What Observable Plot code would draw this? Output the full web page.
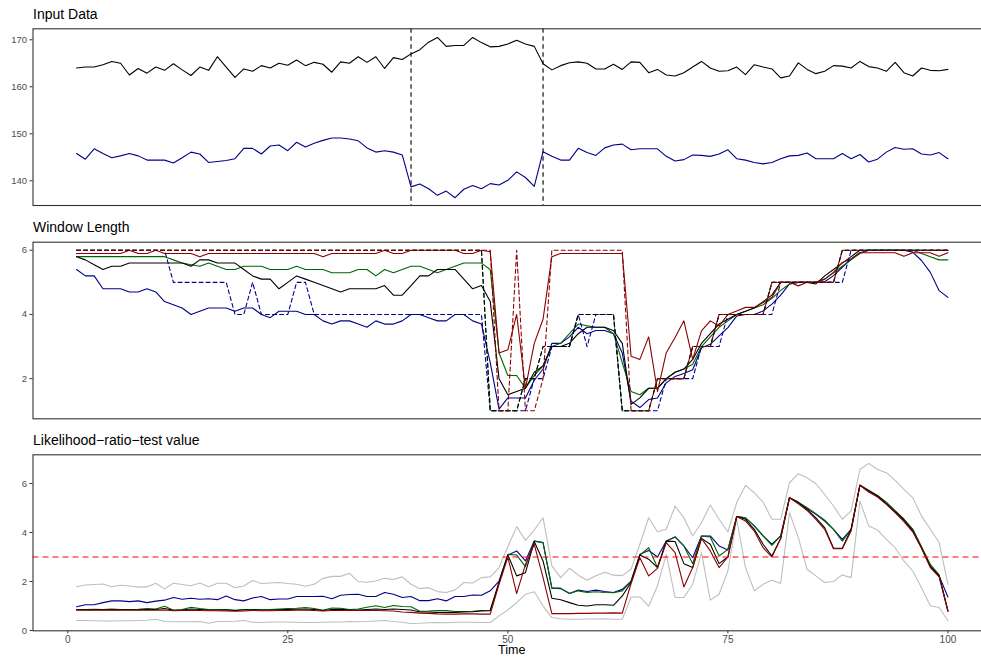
<!DOCTYPE html>
<html><head><meta charset="utf-8">
<script src="https://cdn.jsdelivr.net/npm/d3@7"></script>
<script src="https://cdn.jsdelivr.net/npm/@observablehq/plot@0.6"></script>
<style>
html,body{margin:0;padding:0;overflow:hidden;background:#fff;}
body{font-family:"Liberation Sans",Arial,Helvetica,sans-serif;}
#wrap{position:relative;width:1000px;height:657px;}
.title{position:absolute;left:33px;font-size:14px;line-height:14px;color:#000;white-space:nowrap;}
.xlab{position:absolute;font-size:12.5px;line-height:12.5px;color:#000;width:100px;text-align:center;}
.p{position:absolute;left:0;}
</style></head>
<body><div id="wrap"></div>
<script>
// ---------- data ----------
const time = d3.range(1, 101);
const changepoints = [39, 54];
const threshold = [3];

const input_black = [164.0,164.2,164.2,164.7,165.4,165.0,162.5,163.9,162.9,164.2,
163.5,164.9,163.6,162.4,164.2,163.5,166.4,164.2,162.0,163.8,
163.3,164.5,164.0,165.0,164.6,165.7,164.5,165.2,164.8,163.1,
165.3,165.0,166.4,165.2,166.4,163.9,166.2,165.8,167.0,167.9,
169.5,170.5,168.6,168.8,168.8,170.5,169.4,168.5,168.6,169.1,
169.9,169.1,168.6,164.9,163.6,164.5,165.1,165.3,165.0,163.8,
163.8,164.8,163.7,165.3,165.2,163.0,163.7,162.5,162.3,163.0,
164.2,165.4,164.0,163.3,163.4,164.2,162.6,164.7,164.2,163.8,
161.9,162.3,165.1,163.7,162.8,163.3,164.5,164.4,164.0,165.4,
164.3,164.0,163.3,165.2,163.0,162.3,164.0,163.5,163.4,163.7];
const input_blue = [145.8,144.6,146.8,145.8,144.9,145.3,145.8,145.3,144.4,144.4,
144.4,143.8,144.9,146.1,145.7,143.9,144.1,144.3,144.7,146.9,
146.9,145.7,147.4,147.6,146.4,148.2,147.2,148.0,148.6,149.1,
149.1,148.9,148.5,147.0,146.1,146.4,146.1,145.5,138.7,139.3,
138.3,136.9,137.8,136.4,138.2,139.0,138.3,139.4,139.1,140.1,
141.9,140.7,138.8,146.2,145.2,144.4,144.4,146.9,146.0,145.4,
147.0,147.6,147.8,146.6,146.8,146.8,146.8,145.2,144.2,144.5,
145.5,145.4,145.2,145.7,146.6,144.7,144.4,143.9,143.6,143.9,
144.7,145.3,145.4,145.9,144.7,144.7,144.7,145.8,144.7,145.6,
144.0,144.6,146.1,147.1,146.7,146.8,145.7,145.5,146.0,144.7];

const wl_black = [5.8,5.7,5.55,5.4,5.5,5.5,5.6,5.6,5.6,5.6,
5.6,5.6,5.6,5.5,5.7,5.7,5.6,5.6,5.6,5.4,
5.2,5.1,5.1,4.8,5.0,5.2,5.1,5.0,4.9,4.8,
4.7,4.8,4.8,4.8,4.8,4.9,4.6,4.6,4.9,5.2,
5.2,5.4,5.4,5.4,5.1,4.8,4.9,4.4,2.0,1.5,
1.6,1.7,2.2,2.4,3.0,3.0,3.1,3.4,3.6,3.6,
3.6,3.5,3.1,1.2,1.4,1.7,1.7,2.0,2.2,2.3,
2.6,3.1,3.4,3.7,3.85,4.0,4.1,4.2,4.4,4.6,
5.0,5.0,5.0,5.0,4.95,5.2,5.4,5.6,5.8,6.0,
6,6,6,6,6,6,6,6,6,6];
const wl_blue = [5.4,5.2,5.2,4.8,4.8,4.8,4.7,4.7,4.8,4.7,
4.4,4.3,4.2,4.0,4.1,4.2,4.2,4.2,4.1,4.2,
4.2,4.0,3.9,4.1,4.1,4.1,4.0,4.0,3.8,3.7,
3.8,3.8,3.7,3.6,3.8,3.7,3.7,3.8,4.0,4.0,
3.9,3.8,3.8,4.0,4.0,3.8,3.7,2.5,1.05,1.4,
1.4,1.4,1.95,2.3,3.1,3.1,3.3,3.6,3.4,3.5,
3.5,3.4,2.8,1.3,1.1,1.35,1.4,1.87,2.07,2.16,
2.28,2.96,3.07,3.33,3.59,3.95,4.0,4.0,4.11,4.32,
4.6,4.95,5.0,5.0,5.0,5.02,5.21,5.47,5.73,5.92,
6.0,6.0,6.0,6.0,6.0,5.94,5.68,5.31,4.74,4.53];
const wl_green = [5.8,5.8,5.8,5.8,5.8,5.8,5.8,5.8,5.8,5.8,
5.8,5.7,5.6,5.55,5.5,5.6,5.5,5.4,5.4,5.5,
5.5,5.5,5.4,5.4,5.4,5.5,5.4,5.4,5.4,5.3,
5.3,5.3,5.4,5.4,5.2,5.4,5.3,5.4,5.5,5.5,
5.4,5.3,5.4,5.5,5.6,5.6,5.6,5.4,2.8,2.1,
2.1,1.7,2.1,2.4,3.0,3.1,3.4,3.7,3.65,3.6,
3.6,3.4,2.5,1.6,1.5,1.7,1.7,2.0,2.2,2.3,
2.45,3.0,3.3,3.6,3.8,4.0,4.1,4.2,4.3,4.5,
4.75,4.95,5.0,5.0,5.0,5.1,5.3,5.5,5.7,5.9,
6.0,6.0,6.0,6.0,6.0,6.0,5.9,5.8,5.7,5.7];
const wl_red = [5.9,5.9,5.9,5.9,5.9,5.9,6.0,5.9,5.9,6.0,
5.9,5.9,5.9,5.9,5.8,5.9,5.9,5.9,5.9,5.9,
5.9,5.9,5.9,5.9,5.9,5.9,5.9,5.9,5.8,5.9,
5.9,5.9,5.9,5.9,5.9,6.0,5.9,5.9,6.0,6.0,
6.0,6.0,6.0,6.0,5.9,5.9,6.0,5.95,2.8,2.9,
4.0,1.7,3.1,3.85,5.8,5.9,5.9,5.9,5.9,5.9,
5.9,5.9,5.9,2.7,2.6,3.3,1.6,2.81,3.28,3.8,
2.6,3.49,3.8,3.64,4.0,4.11,4.22,4.22,4.37,4.53,
5.0,5.0,4.89,5.0,5.0,5.1,5.31,5.62,5.73,5.92,
5.92,5.92,5.92,5.92,5.81,5.92,5.92,5.92,5.81,5.92];
const wl_black_dash = [6,6,6,6,6,6,6,6,6,6,
6,6,6,6,6,6,6,6,6,6,
6,6,6,6,6,6,6,6,6,6,
6,6,6,6,6,6,6,6,6,6,
6,6,6,6,6,6,6,1,1,1,
1,2,2,3,3,3,3,4,4,4,
4,4,1,1,1,1,2,2,2,2,
3,3,3,4,4,4,4,4,4,5,
5,5,5,5,5,5,5,6,6,6,
6,6,6,6,6,6,6,6,6,6];
const wl_green_dash = [6,6,6,6,6,6,6,6,6,6,
6,6,6,6,6,6,6,6,6,6,
6,6,6,6,6,6,6,6,6,6,
6,6,6,6,6,6,6,6,6,6,
6,6,6,6,6,6,6,1,1,1,
1,2,2,3,3,3,3,4,4,4,
4,4,1,1,1,1,2,2,2,2,
3,3,3,4,4,4,4,4,4,5,
5,5,5,5,5,5,5,6,6,6,
6,6,6,6,6,6,6,6,6,6];
const wl_blue_dash = [6,6,6,6,6,6,6,6,6,6,
6,5,5,5,5,5,5,5,4,4,
5,4,4,4,4,5,5,4,4,4,
4,4,4,4,4,4,4,4,4,4,
4,4,4,4,4,4,4,1,1,1,
1,1,2,2,3,3,3,4,3,4,
4,4,1,1,1,1,1,2,2,2,
2,3,3,3,4,4,4,4,4,4,
5,5,5,5,5,5,5,5,6,6,
6,6,6,6,6,6,6,6,6,6];
const wl_red_dash = [6,6,6,6,6,6,6,6,6,6,
6,6,6,6,6,6,6,6,6,6,
6,6,6,6,6,6,6,6,6,6,
6,6,6,6,6,6,6,6,6,6,
6,6,6,6,6,6,6,6,1,1,
6,1,1,2,6,6,6,6,6,6,
6,6,6,1,1,1,2,2,2,2,
3,3,3,4,4,4,4,4,4,5,
5,5,5,5,5,5,5,6,6,6,
6,6,6,6,6,6,6,6,6,6];

const lrt_upper = [1.79,1.86,1.88,1.90,1.79,1.85,1.82,1.77,1.78,1.93,
1.70,1.93,1.88,1.83,1.94,1.79,1.93,1.93,1.75,1.82,
2.04,1.92,1.94,1.96,1.92,1.89,1.81,1.89,2.13,2.21,
2.21,2.34,2.00,1.97,2.02,2.13,2.08,2.19,1.89,1.71,
1.75,1.59,1.55,1.66,1.96,1.94,2.16,2.19,2.57,3.42,
4.24,3.68,4.10,4.60,2.64,2.16,2.54,2.26,2.05,2.24,
2.38,2.26,2.24,2.50,3.52,4.60,4.03,4.13,5.08,4.60,
3.86,4.40,5.12,4.54,4.02,5.22,5.92,5.62,5.24,4.54,
4.54,6.03,6.40,6.23,5.99,5.55,5.08,4.54,4.88,6.57,
6.82,6.57,6.44,6.13,5.76,5.42,4.67,4.13,3.59,1.89];
const lrt_lower = [0.41,0.41,0.40,0.39,0.39,0.40,0.40,0.41,0.42,0.46,
0.37,0.36,0.36,0.36,0.37,0.30,0.37,0.37,0.38,0.41,
0.34,0.33,0.35,0.35,0.35,0.34,0.33,0.33,0.34,0.35,
0.35,0.37,0.36,0.37,0.39,0.41,0.37,0.34,0.29,0.30,
0.32,0.33,0.32,0.34,0.34,0.34,0.33,0.33,0.60,0.84,
1.14,1.48,1.58,1.00,0.53,0.48,0.46,0.46,0.47,0.47,
0.48,0.46,0.46,1.37,1.37,1.00,1.82,3.11,1.35,1.35,
1.89,3.18,1.24,1.48,2.43,4.54,2.57,1.62,1.89,2.05,
1.92,4.81,3.79,2.50,2.23,1.96,2.00,2.27,2.16,5.28,
4.27,4.10,3.72,3.38,2.84,2.43,1.75,1.01,0.94,0.40];
const lrt_blue = [0.97,1.05,1.05,1.14,1.21,1.21,1.18,1.21,1.14,1.20,
1.24,1.35,1.28,1.32,1.28,1.30,1.26,1.41,1.26,1.21,
1.33,1.39,1.26,1.29,1.29,1.39,1.39,1.39,1.40,1.30,
1.44,1.47,1.48,1.39,1.39,1.55,1.48,1.35,1.39,1.22,
1.22,1.30,1.21,1.39,1.39,1.45,1.44,1.62,2.02,3.08,
3.25,2.84,3.65,3.59,1.73,1.71,1.51,1.65,1.59,1.65,
1.59,1.55,1.68,2.02,3.11,3.27,3.00,3.65,3.82,3.45,
2.97,3.86,3.86,3.45,3.29,4.65,4.60,4.27,3.86,3.52,
3.86,5.42,5.22,4.98,4.74,4.47,4.13,3.72,4.13,5.93,
5.69,5.49,5.22,4.88,4.54,4.13,3.38,2.64,2.23,1.37];
const lrt_green = [0.86,0.86,0.87,0.86,0.88,0.86,0.86,0.87,0.90,0.88,
0.99,0.83,0.86,0.95,0.90,0.86,0.85,0.86,0.83,0.86,
0.86,0.85,0.86,0.88,0.90,0.91,0.94,0.90,0.83,0.92,
0.91,0.86,0.88,0.95,1.01,0.94,1.02,0.98,0.97,0.79,
0.80,0.82,0.82,0.78,0.78,0.79,0.82,0.83,1.96,3.11,
3.08,2.61,3.65,3.59,1.73,1.73,1.51,1.62,1.55,1.58,
1.55,1.54,1.62,2.00,3.08,3.38,2.57,3.65,3.82,3.45,
2.73,3.86,3.82,3.04,3.31,4.65,4.60,4.27,3.86,3.48,
3.86,5.42,5.24,5.01,4.77,4.50,4.13,3.65,4.13,5.93,
5.72,5.51,5.24,4.88,4.54,4.13,3.42,2.70,2.27,0.80];
const lrt_black = [0.85,0.85,0.85,0.85,0.86,0.85,0.85,0.85,0.86,0.86,
0.90,0.83,0.84,0.88,0.86,0.84,0.84,0.84,0.82,0.84,
0.84,0.84,0.84,0.85,0.86,0.87,0.88,0.86,0.82,0.86,
0.87,0.84,0.84,0.86,0.88,0.86,0.88,0.86,0.84,0.76,
0.76,0.74,0.74,0.74,0.76,0.77,0.80,0.81,1.96,3.08,
2.23,2.36,3.63,2.84,1.32,1.26,1.14,1.03,1.00,1.05,
1.05,1.03,1.41,1.96,3.08,2.91,2.57,3.65,3.63,2.73,
2.57,3.76,3.52,2.73,3.00,4.65,4.54,4.13,3.52,3.04,
3.76,5.42,5.22,4.94,4.60,4.20,3.36,3.36,4.13,5.93,
5.69,5.49,5.17,4.84,4.50,4.06,3.38,2.60,2.23,0.80];
const lrt_red = [0.83,0.83,0.83,0.83,0.84,0.83,0.83,0.83,0.83,0.83,
0.84,0.81,0.82,0.83,0.82,0.81,0.81,0.80,0.79,0.80,
0.82,0.81,0.81,0.82,0.82,0.83,0.83,0.82,0.80,0.82,
0.82,0.82,0.82,0.82,0.82,0.81,0.80,0.76,0.74,0.71,
0.70,0.68,0.67,0.67,0.68,0.68,0.67,0.67,1.89,3.00,
1.51,2.70,3.52,2.16,0.69,0.69,0.69,0.70,0.70,0.71,
0.71,0.72,0.71,1.92,2.97,2.23,2.54,3.59,3.18,1.78,
2.57,3.76,3.25,2.57,3.00,4.65,4.47,4.06,3.38,3.00,
3.76,5.42,5.17,4.90,4.54,4.13,3.34,3.34,4.06,5.93,
5.65,5.45,5.15,4.81,4.44,4.03,3.36,2.57,2.19,0.78];

const ticks_input = [140, 150, 160, 170];
const ticks_wl = [2, 4, 6];
const ticks_lrt = [0, 2, 4, 6];
const ticks_time = [0, 25, 50, 75, 100];

// ---------- helpers ----------
const FONT = '"Liberation Sans", Arial, Helvetica, sans-serif';
const W = 1000, ML = 32.5, MR = 9;
const xdom = [-3.95, 104.95];
const BLACK = "#000000", BLUE = "#00008B", GREEN = "#006400", RED = "#8B0000", GREY = "#BEBEBE";
const rows = vals => time.map((t, i) => ({t, v: vals[i]}));
const line = (vals, stroke, dash, w = 1.1) =>
  Plot.line(rows(vals), {x: "t", y: "v", stroke, strokeWidth: w, strokeDasharray: dash});
const yAxis = ticks => Plot.axisY({ticks, tickSize: 3, tickPadding: 3, label: null,
  tickFormat: d3.format("d"), fontSize: 9.5, fill: "#4D4D4D", stroke: "#333333"});

function panel(opts) {
  return Plot.plot({
    width: W, height: opts.height,
    marginLeft: ML, marginRight: MR, marginTop: opts.mt, marginBottom: opts.mb,
    style: {fontFamily: FONT, background: "transparent", color: "#4D4D4D", overflow: "visible"},
    x: {domain: xdom, axis: null},
    y: {domain: opts.ydom, axis: null},
    marks: opts.marks
  });
}

const wrap = document.getElementById("wrap");
function place(node, top) { node.classList.add("p"); node.style.top = top + "px"; wrap.appendChild(node); }
function title(text, top) { const d = document.createElement("div"); d.className = "title"; d.textContent = text; d.style.top = top + "px"; wrap.appendChild(d); }

// ---------- panel 1: input data ----------
title("Input Data", 6.5);
place(panel({
  height: 210, mt: 28.3, mb: 5, ydom: [134.74, 172.34],
  marks: [
    yAxis(ticks_input),
    Plot.ruleX(changepoints, {stroke: "#333333", strokeWidth: 1.4, strokeDasharray: "4.5,3.5"}),
    line(input_black, BLACK),
    line(input_blue, BLUE),
    Plot.frame({stroke: "#333333", strokeWidth: 1.1})
  ]
}), 0);

// ---------- panel 2: window length ----------
title("Window Length", 220);
place(panel({
  height: 210, mt: 28.7, mb: 4.7, ydom: [0.75, 6.25],
  marks: [
    yAxis(ticks_wl),
    line(wl_blue, BLUE),
    line(wl_green, GREEN),
    line(wl_black, BLACK),
    line(wl_red, RED),
    line(wl_blue_dash, BLUE, "4,3"),
    line(wl_green_dash, GREEN, "4,3"),
    line(wl_black_dash, BLACK, "4,3"),
    line(wl_red_dash, RED, "4,3"),
    Plot.frame({stroke: "#333333", strokeWidth: 1.1})
  ]
}), 213);

// ---------- panel 3: likelihood ratio test ----------
title("Likelihood\u2212ratio\u2212test value", 432.5);
place(panel({
  height: 231, mt: 28.3, mb: 26.7, ydom: [-0.01, 7.17],
  marks: [
    yAxis(ticks_lrt),
    Plot.axisX({ticks: ticks_time, tickSize: 3, tickPadding: 2, label: null,
      fontSize: 10, fill: "#4D4D4D", stroke: "#333333"}),
    line(lrt_upper, GREY),
    line(lrt_lower, GREY),
    line(lrt_blue, BLUE),
    line(lrt_green, GREEN),
    line(lrt_black, BLACK),
    line(lrt_red, RED),
    Plot.ruleY(threshold, {stroke: "#FF0000", strokeWidth: 1.2, strokeDasharray: "6,4"}),
    Plot.frame({stroke: "#333333", strokeWidth: 1.1})
  ]
}), 426);

const xl = document.createElement("div");
xl.className = "xlab"; xl.textContent = "Time";
xl.style.left = (511.7 - 50) + "px"; xl.style.top = "644px";
wrap.appendChild(xl);
</script>
</body></html>
